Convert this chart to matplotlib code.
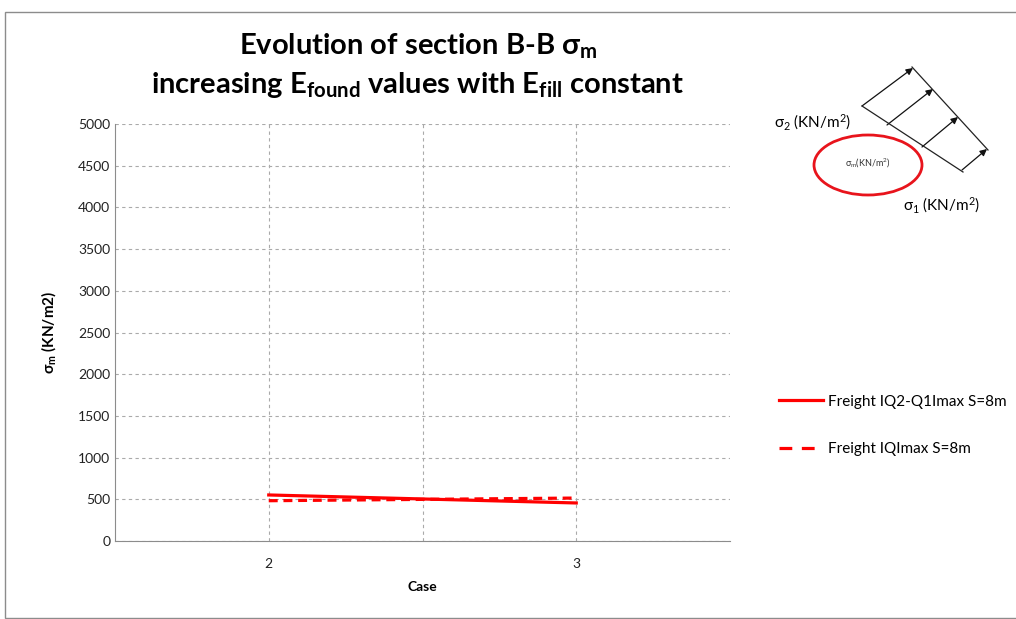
import matplotlib
matplotlib.use("Agg")
import matplotlib.pyplot as plt
from matplotlib.lines import Line2D
from matplotlib.patches import Ellipse, FancyArrowPatch, Rectangle

plt.rcParams["font.family"] = ["Lato", "DejaVu Sans"]
plt.rcParams["mathtext.fontset"] = "custom"
plt.rcParams["mathtext.rm"] = "Lato"
plt.rcParams["mathtext.it"] = "Lato"
plt.rcParams["mathtext.bf"] = "Lato:bold"

cases = [2, 3]
iq2_q1imax = [552, 456]
iqimax = [483, 515]
series_labels = ["Freight IQ2-Q1Imax S=8m", "Freight IQImax S=8m"]
y_ticks = list(range(0, 5001, 500))

W, H = 1016, 619
fig = plt.figure(figsize=(W / 100, H / 100), dpi=100)


def px(x, y):
    return (x / W, 1 - y / H)


# outer chart frame
fig.add_artist(Rectangle(px(5, 618), (W - 4) / W, 606 / H, transform=fig.transFigure,
                         fill=False, edgecolor="#8c8c8c", linewidth=1))

dash = (0, (2.8, 1.8))
ax = fig.add_axes([115 / W, 1 - 541 / H, 615 / W, 417 / H])
ax.plot(cases, iq2_q1imax, color="#ff0000", linewidth=2.3, label=series_labels[0])
ax.plot(cases, iqimax, color="#ff0000", linewidth=2.3, linestyle=dash,
        label=series_labels[1])

ax.set_xlim(1.5, 3.5)
ax.set_ylim(0, 5000)
ax.set_yticks(y_ticks)
ax.set_xticks(cases)
ax.set_xticks([2.5], minor=True)
ax.tick_params(axis="both", which="both", length=0, labelsize=10, colors="#222222")
ax.tick_params(axis="x", pad=12)
ax.grid(True, axis="both", which="major", linestyle=(0, (3, 3)), color="#aaaaaa", linewidth=0.8)
ax.grid(True, axis="x", which="minor", linestyle=(0, (3, 3)), color="#aaaaaa", linewidth=0.8)
for s in ["top", "right"]:
    ax.spines[s].set_visible(False)
for s in ["left", "bottom"]:
    ax.spines[s].set_color("#8c8c8c")

ax.set_xlabel("Case", fontsize=10, fontweight="bold", labelpad=8)
ax.set_ylabel(r"$\mathbf{\sigma_m}$ (KN/m2)", fontsize=11, fontweight="bold", labelpad=14)

fig.text(*px(418, 46), r"Evolution of section B-B $\mathbf{\sigma_m}$", ha="center", va="center",
         fontsize=21, fontweight="bold")
fig.text(*px(418, 85), r"increasing E$_\mathbf{found}$ values with E$_\mathbf{fill}$ constant",
         ha="center", va="center", fontsize=21, fontweight="bold")

handles = [Line2D([], [], color="#ff0000", linewidth=2.3),
           Line2D([], [], color="#ff0000", linewidth=2.3, linestyle=(0, (4, 3)))]
fig.legend(handles, series_labels, loc="upper left", bbox_to_anchor=px(765, 381),
           frameon=False, fontsize=11, handlelength=2.9, handletextpad=0.35,
           labelspacing=2.2)

# stress diagram (top right)
tf = fig.transFigure
for a, b in [((862, 106), (963, 172)), ((912, 67), (988, 150))]:
    fig.add_artist(Line2D([px(*a)[0], px(*b)[0]], [px(*a)[1], px(*b)[1]],
                          transform=tf, color="#222222", linewidth=0.9))
for a, b in [((862, 106), (913, 68)), ((887, 125), (933, 89)),
             ((922, 147), (958, 117)), ((962, 170), (987, 149))]:
    fig.add_artist(FancyArrowPatch(px(*a), px(*b), transform=tf, arrowstyle="-|>",
                                   mutation_scale=10, color="#111111", linewidth=0.9,
                                   shrinkA=0, shrinkB=0))
fig.add_artist(Ellipse(px(868, 165), 108 / W, 60 / H, transform=tf, fill=False,
                       edgecolor="#e8141c", linewidth=2))
fig.text(*px(868, 163), r"$\sigma_m$(KN/m$^2$)", ha="center", va="center", fontsize=6.5,
         color="#333333")
fig.text(*px(812, 122), r"$\sigma_2$ (KN/m$^2$)", ha="center", va="center", fontsize=11)
fig.text(*px(941, 205), r"$\sigma_1$ (KN/m$^2$)", ha="center", va="center", fontsize=11)

fig.savefig("out.png", dpi=100)
